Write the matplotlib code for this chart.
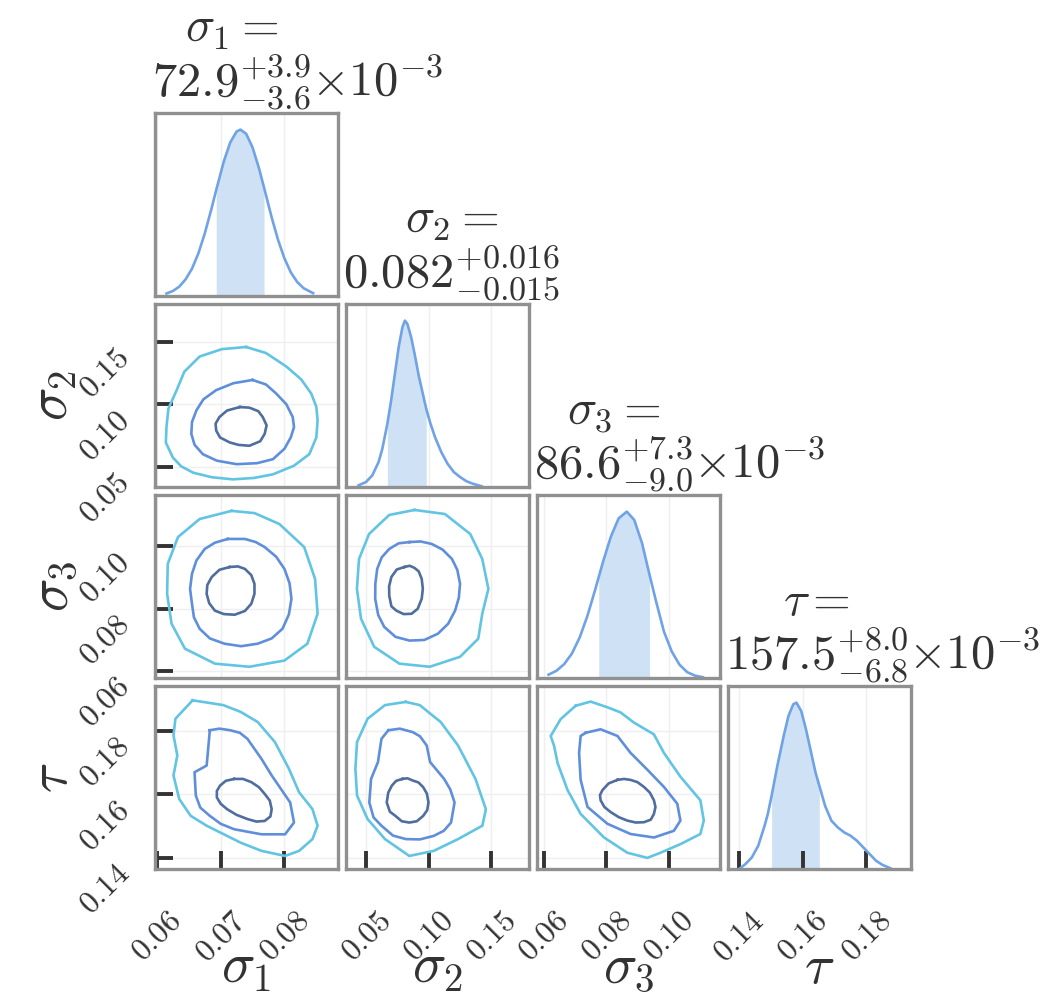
import matplotlib
matplotlib.use("Agg")
import matplotlib.pyplot as plt
import numpy as np

plt.rcParams['mathtext.fontset'] = 'cm'
plt.rcParams['font.family'] = 'DejaVu Serif'

# parameters, axis ranges and ticks
labels = [r'$\sigma_1$', r'$\sigma_2$', r'$\sigma_3$', r'$\tau$']
lims = [(0.0597, 0.0884), (0.034, 0.180), (0.0578, 0.1165), (0.1365, 0.194)]
ticks = [[0.06, 0.07, 0.08], [0.05, 0.10, 0.15], [0.06, 0.08, 0.10], [0.14, 0.16, 0.18]]
tick_text = [['0.06', '0.07', '0.08'], ['0.05', '0.10', '0.15'],
             ['0.06', '0.08', '0.10'], ['0.14', '0.16', '0.18']]

title_names = [r'$\sigma_1 =$', r'$\sigma_2 =$', r'$\sigma_3 =$', r'$\tau =$']
title_values = [r'$72.9^{+3.9}_{-3.6}$', r'$0.082^{+0.016}_{-0.015}$',
                r'$86.6^{+7.3}_{-9.0}$', r'$157.5^{+8.0}_{-6.8}$']
title_scale = [r'$\times10^{-3}$', '', r'$\times10^{-3}$', r'$\times10^{-3}$']

# 1D marginals (normalised density) and credible bounds
s1_x = [0.0615, 0.0625, 0.0635, 0.0645, 0.0655, 0.0665, 0.0675, 0.0685, 0.0693, 0.0705,
        0.0715, 0.0725, 0.0731, 0.0740, 0.0750, 0.0760, 0.0768, 0.0780, 0.0790, 0.0800,
        0.0810, 0.0820, 0.0830, 0.0845]
s1_d = [0.015, 0.03, 0.056, 0.10, 0.164, 0.256, 0.375, 0.516, 0.637, 0.81,
        0.923, 0.989, 1.0, 0.975, 0.893, 0.769, 0.652, 0.472, 0.337, 0.226,
        0.142, 0.084, 0.047, 0.017]
s1_ci = (0.0693, 0.0768)

s2_x = [0.044, 0.050, 0.055, 0.060, 0.063, 0.067, 0.070, 0.073, 0.076, 0.079, 0.081,
        0.083, 0.086, 0.089, 0.092, 0.095, 0.098, 0.101, 0.105, 0.110, 0.115, 0.120,
        0.125, 0.130, 0.135, 0.142]
s2_d = [0.01, 0.03, 0.07, 0.15, 0.23, 0.38, 0.52, 0.68, 0.84, 0.96, 1.00,
        0.98, 0.90, 0.79, 0.67, 0.57, 0.47, 0.39, 0.30, 0.21, 0.14, 0.09,
        0.06, 0.035, 0.02, 0.005]
s2_ci = (0.067, 0.098)

s3_x = [0.0615, 0.064, 0.0665, 0.069, 0.0715, 0.074, 0.0765, 0.0776, 0.079, 0.0815,
        0.084, 0.0866, 0.089, 0.0915, 0.0939, 0.096, 0.0985, 0.101, 0.1035, 0.106,
        0.1085, 0.111]
s3_d = [0.02, 0.043, 0.083, 0.147, 0.244, 0.375, 0.533, 0.607, 0.70, 0.85,
        0.96, 1.00, 0.95, 0.81, 0.62, 0.46, 0.28, 0.16, 0.08, 0.035,
        0.014, 0.005]
s3_ci = (0.0776, 0.0939)

tau_x = [0.1400, 0.1420, 0.1440, 0.1460, 0.1480, 0.1490, 0.1502, 0.1520, 0.1540, 0.1555,
         0.1570, 0.1580, 0.1595, 0.1610, 0.1625, 0.1640, 0.1652, 0.1670, 0.1690, 0.1710,
         0.1730, 0.1750, 0.1770, 0.1790, 0.1810, 0.1830, 0.1850, 0.1875]
tau_d = [0.00, 0.03, 0.07, 0.14, 0.26, 0.33, 0.44, 0.62, 0.80, 0.92,
         0.99, 1.00, 0.95, 0.84, 0.71, 0.58, 0.50, 0.38, 0.29, 0.25,
         0.22, 0.20, 0.17, 0.13, 0.09, 0.05, 0.025, 0.005]
tau_ci = (0.1502, 0.1652)

# 2D credible contours (outer, middle, inner), (x, y) points
s1s2_outer = [(0.0740, 0.1457), (0.0702, 0.1440), (0.0667, 0.1381), (0.0643, 0.1260),
              (0.0631, 0.1113), (0.0618, 0.0965), (0.0615, 0.0817), (0.0614, 0.0695),
              (0.0625, 0.0575), (0.0638, 0.0505), (0.0657, 0.0454), (0.0686, 0.0418),
              (0.0719, 0.0401), (0.0752, 0.0412), (0.0782, 0.0441), (0.0815, 0.0510),
              (0.0839, 0.0602), (0.0850, 0.0735), (0.0852, 0.0871), (0.0850, 0.0980),
              (0.0842, 0.1086), (0.0826, 0.1200), (0.0803, 0.1301), (0.0771, 0.1409)]
s1s2_mid = [(0.0750, 0.1194), (0.0720, 0.1168), (0.0693, 0.1113), (0.0673, 0.1040),
            (0.0662, 0.0952), (0.0655, 0.0858), (0.0654, 0.0764), (0.0659, 0.0677),
            (0.0672, 0.0602), (0.0694, 0.0550), (0.0725, 0.0522), (0.0757, 0.0530),
            (0.0782, 0.0562), (0.0800, 0.0645), (0.0810, 0.0736), (0.0815, 0.0818),
            (0.0813, 0.0898), (0.0803, 0.1000), (0.0787, 0.1086), (0.0771, 0.1158)]
s1s2_inner = [(0.0730, 0.0978), (0.0710, 0.0950), (0.0698, 0.0898), (0.0692, 0.0845),
              (0.0693, 0.0790), (0.0699, 0.0735), (0.0714, 0.0696), (0.0728, 0.0676),
              (0.0745, 0.0669), (0.0762, 0.0705), (0.0769, 0.0764), (0.0772, 0.0832),
              (0.0766, 0.0898), (0.0759, 0.0945), (0.0745, 0.0973)]

s1s3_outer = [(0.0717, 0.1114), (0.0667, 0.1088), (0.0633, 0.1030), (0.0617, 0.0944),
              (0.0616, 0.0848), (0.0623, 0.0752), (0.0644, 0.0672), (0.0691, 0.0624),
              (0.0745, 0.0614), (0.0800, 0.0634), (0.0836, 0.0688), (0.0852, 0.0784),
              (0.0848, 0.0896), (0.0831, 0.0998), (0.0792, 0.1072), (0.0753, 0.1107)]
s1s3_mid = [(0.0711, 0.1024), (0.0691, 0.1012), (0.0675, 0.0992), (0.0662, 0.0955),
            (0.0655, 0.0912), (0.0652, 0.0864), (0.0655, 0.0816), (0.0658, 0.0773),
            (0.0667, 0.0736), (0.0683, 0.0705), (0.0706, 0.0688), (0.0732, 0.0680),
            (0.0758, 0.0688), (0.0780, 0.0705), (0.0797, 0.0736), (0.0807, 0.0782),
            (0.0811, 0.0832), (0.0808, 0.0882), (0.0800, 0.0928), (0.0787, 0.0967),
            (0.0769, 0.0998), (0.0755, 0.1014), (0.0738, 0.1024)]
s1s3_inner = [(0.0714, 0.0934), (0.0698, 0.0925), (0.0686, 0.0902), (0.0679, 0.0876),
              (0.0678, 0.0848), (0.0682, 0.0818), (0.0691, 0.0794), (0.0705, 0.0783),
              (0.0722, 0.0781), (0.0738, 0.0793), (0.0748, 0.0816), (0.0753, 0.0848),
              (0.0753, 0.0880), (0.0748, 0.0908), (0.0738, 0.0928), (0.0727, 0.0936)]

s2s3_outer = [(0.0887, 0.1117), (0.0685, 0.1101), (0.0524, 0.1040), (0.0444, 0.0960),
              (0.0427, 0.0864), (0.0460, 0.0768), (0.0565, 0.0678), (0.0766, 0.0624),
              (0.1008, 0.0614), (0.1250, 0.0646), (0.1395, 0.0704), (0.1427, 0.0784),
              (0.1476, 0.0864), (0.1427, 0.0960), (0.1331, 0.1040), (0.1129, 0.1104)]
s2s3_mid = [(0.0847, 0.1014), (0.0760, 0.1010), (0.0685, 0.0992), (0.0625, 0.0965),
            (0.0589, 0.0928), (0.0574, 0.0880), (0.0573, 0.0832), (0.0597, 0.0780),
            (0.0645, 0.0742), (0.0735, 0.0710), (0.0847, 0.0698), (0.0965, 0.0700),
            (0.1073, 0.0720), (0.1155, 0.0752), (0.1210, 0.0794), (0.1240, 0.0835),
            (0.1250, 0.0880), (0.1228, 0.0925), (0.1185, 0.0960), (0.1110, 0.0990),
            (0.1024, 0.1008), (0.0935, 0.1016)]
s2s3_inner = [(0.0806, 0.0934), (0.0745, 0.0926), (0.0702, 0.0902), (0.0684, 0.0872),
              (0.0685, 0.0842), (0.0702, 0.0808), (0.0742, 0.0794), (0.0800, 0.0783),
              (0.0863, 0.0784), (0.0912, 0.0800), (0.0944, 0.0832), (0.0953, 0.0864),
              (0.0944, 0.0896), (0.0920, 0.0920), (0.0887, 0.0931), (0.0848, 0.0938)]

s1tau_outer = [(0.0656, 0.1895), (0.0629, 0.1837), (0.0626, 0.1785), (0.0632, 0.1722),
               (0.0626, 0.1659), (0.0635, 0.1585), (0.0653, 0.1532), (0.0678, 0.1501),
               (0.0731, 0.1448), (0.0764, 0.1422), (0.0801, 0.1406), (0.0823, 0.1422),
               (0.0844, 0.1459), (0.0852, 0.1501), (0.0844, 0.1553), (0.0823, 0.1606),
               (0.0807, 0.1680), (0.0785, 0.1764), (0.0758, 0.1827), (0.0731, 0.1859),
               (0.0704, 0.1880)]
s1tau_mid = [(0.0683, 0.1801), (0.0678, 0.1690), (0.0659, 0.1669), (0.0661, 0.1596),
             (0.0668, 0.1558), (0.0683, 0.1532), (0.0700, 0.1507), (0.0721, 0.1490),
             (0.0764, 0.1474), (0.0801, 0.1474), (0.0815, 0.1511), (0.0809, 0.1574),
             (0.0780, 0.1659), (0.0764, 0.1711), (0.0742, 0.1774), (0.0730, 0.1793),
             (0.0715, 0.1801), (0.0698, 0.1806)]
s1tau_inner = [(0.0721, 0.1648), (0.0708, 0.1642), (0.0699, 0.1627), (0.0694, 0.1610),
               (0.0694, 0.1590), (0.0700, 0.1570), (0.0710, 0.1553), (0.0725, 0.1535),
               (0.0742, 0.1522), (0.0756, 0.1514), (0.0769, 0.1516), (0.0778, 0.1530),
               (0.0780, 0.1553), (0.0777, 0.1580), (0.0769, 0.1601), (0.0760, 0.1622),
               (0.0748, 0.1638), (0.0735, 0.1648)]

s2tau_outer = [(0.0817, 0.1890), (0.0651, 0.1880), (0.0512, 0.1837), (0.0428, 0.1764),
               (0.0415, 0.1680), (0.0428, 0.1596), (0.0512, 0.1522), (0.0651, 0.1459),
               (0.0845, 0.1406), (0.1040, 0.1422), (0.1234, 0.1459), (0.1428, 0.1501),
               (0.1456, 0.1553), (0.1373, 0.1648), (0.1234, 0.1753), (0.1095, 0.1827),
               (0.0928, 0.1880)]
s2tau_mid = [(0.0678, 0.1801), (0.0623, 0.1774), (0.0595, 0.1701), (0.0540, 0.1648),
             (0.0526, 0.1574), (0.0560, 0.1527), (0.0623, 0.1501), (0.0715, 0.1470),
             (0.0817, 0.1459), (0.0930, 0.1458), (0.1040, 0.1469), (0.1120, 0.1485),
             (0.1178, 0.1511), (0.1206, 0.1574), (0.1172, 0.1615), (0.1123, 0.1648),
             (0.1011, 0.1701), (0.0984, 0.1753), (0.0930, 0.1782), (0.0873, 0.1795),
             (0.0770, 0.1806)]
s2tau_inner = [(0.0790, 0.1648), (0.0740, 0.1642), (0.0706, 0.1627), (0.0677, 0.1605),
               (0.0665, 0.1574), (0.0690, 0.1545), (0.0734, 0.1532), (0.0785, 0.1515),
               (0.0845, 0.1511), (0.0905, 0.1515), (0.0956, 0.1532), (0.0988, 0.1550),
               (0.0998, 0.1574), (0.0985, 0.1602), (0.0956, 0.1622), (0.0918, 0.1637),
               (0.0873, 0.1643), (0.0830, 0.1650)]

s3tau_outer = [(0.0702, 0.1878), (0.0750, 0.1891), (0.0804, 0.1873), (0.0846, 0.1857),
               (0.0889, 0.1825), (0.0953, 0.1788), (0.0985, 0.1730), (0.1038, 0.1655),
               (0.1102, 0.1581), (0.1113, 0.1517), (0.1102, 0.1475), (0.1038, 0.1443),
               (0.0974, 0.1416), (0.0932, 0.1400), (0.0868, 0.1416), (0.0793, 0.1464),
               (0.0718, 0.1538), (0.0676, 0.1613), (0.0644, 0.1698), (0.0633, 0.1751),
               (0.0622, 0.1783), (0.0654, 0.1836)]
s3tau_mid = [(0.0734, 0.1793), (0.0782, 0.1804), (0.0836, 0.1783), (0.0878, 0.1730),
             (0.0932, 0.1677), (0.0985, 0.1623), (0.1028, 0.1570), (0.1038, 0.1517),
             (0.1017, 0.1485), (0.0953, 0.1464), (0.0878, 0.1475), (0.0804, 0.1507),
             (0.0740, 0.1560), (0.0718, 0.1645), (0.0713, 0.1730), (0.0718, 0.1783)]
s3tau_inner = [(0.0836, 0.1645), (0.0808, 0.1634), (0.0788, 0.1613), (0.0780, 0.1597),
               (0.0782, 0.1581), (0.0794, 0.1560), (0.0814, 0.1544), (0.0840, 0.1528),
               (0.0868, 0.1517), (0.0895, 0.1511), (0.0921, 0.1512), (0.0943, 0.1520),
               (0.0953, 0.1538), (0.0958, 0.1560), (0.0953, 0.1581), (0.0940, 0.1605),
               (0.0921, 0.1623), (0.0900, 0.1638), (0.0878, 0.1645), (0.0857, 0.1648)]

marginals = [(s1_x, s1_d, s1_ci), (s2_x, s2_d, s2_ci), (s3_x, s3_d, s3_ci), (tau_x, tau_d, tau_ci)]
contours = {
    (1, 0): (s1s2_outer, s1s2_mid, s1s2_inner),
    (2, 0): (s1s3_outer, s1s3_mid, s1s3_inner),
    (2, 1): (s2s3_outer, s2s3_mid, s2s3_inner),
    (3, 0): (s1tau_outer, s1tau_mid, s1tau_inner),
    (3, 1): (s2tau_outer, s2tau_mid, s2tau_inner),
    (3, 2): (s3tau_outer, s3tau_mid, s3tau_inner),
}

LINE = '#6fa3e6'
FILL = '#cfe2f5'
CONT = ['#62c4e3', '#5f8fdb', '#4f6d9e']
SPINE = '#909090'
INK = '#333333'

W, H = 1042, 1000
col_left = [155, 346, 537, 728]
row_top = [113, 304, 495, 686]
SIZE = 183

fig = plt.figure(figsize=(W / 100, H / 100), dpi=100)


def make_ax(i, j):
    ax = fig.add_axes([col_left[j] / W, 1 - (row_top[i] + SIZE) / H, SIZE / W, SIZE / H])
    for s in ax.spines.values():
        s.set_color(SPINE)
        s.set_linewidth(2.4)
    ax.tick_params(direction='in', length=13, width=2.8, color=INK,
                   labelsize=23, labelcolor=INK, pad=14)
    ax.tick_params(axis='x', pad=26)
    ax.set_xlim(lims[j])
    ax.set_xticks(ticks[j])
    for t in ticks[j]:
        ax.axvline(t, color='#efefef', lw=1, zorder=0)
    if i == 3:
        ax.set_xticklabels(['$' + s + '$' for s in tick_text[j]])
        plt.setp(ax.get_xticklabels(), rotation=45, ha='center', va='top')
    else:
        ax.tick_params(axis='x', length=0, labelbottom=False)
    return ax


for i in range(4):
    for j in range(i + 1):
        ax = make_ax(i, j)
        if i == j:
            x, d, ci = marginals[i]
            x = np.array(x)
            d = np.array(d)
            ax.plot(x, d, color=LINE, lw=1.9)
            m = (x >= ci[0] - 1e-9) & (x <= ci[1] + 1e-9)
            ax.fill_between(x[m], 0, d[m], color=FILL, lw=0)
            ax.set_ylim(0, 1.1)
            ax.set_yticks([])
        else:
            ax.set_ylim(lims[i])
            ax.set_yticks(ticks[i])
            for t in ticks[i]:
                ax.axhline(t, color='#efefef', lw=1, zorder=0)
            for pts, c in zip(contours[(i, j)], CONT):
                p = np.array(pts + [pts[0]])
                ax.plot(p[:, 0], p[:, 1], color=c, lw=1.9)
            if j == 0:
                ax.set_yticklabels(['$' + s + '$' for s in tick_text[i]])
                plt.setp(ax.get_yticklabels(), rotation=45, ha='right', va='top')
            else:
                ax.tick_params(axis='y', length=0, labelleft=False)

# titles above the diagonal
title_texts = []
for k in range(4):
    x0 = (col_left[k] - 3) / W
    yb = 1 - (row_top[k] - 17) / H
    t = fig.text(x0, yb, title_names[k] + '\n' + title_values[k], ha='left', va='baseline',
                 multialignment='center', fontsize=35, color=INK, linespacing=1.0)
    title_texts.append((t, yb))

fig.canvas.draw()
for k, (t, yb) in enumerate(title_texts):
    if title_scale[k]:
        bb = t.get_window_extent()
        fig.text(bb.x1 / W, yb, title_scale[k], ha='left', va='baseline',
                 fontsize=35, color=INK)

# axis labels
for k in range(4):
    fig.text((col_left[k] + SIZE / 2) / W, 1 - 983 / H, labels[k],
             ha='center', va='baseline', fontsize=40, color=INK)
for k in range(1, 4):
    fig.text(52 / W, 1 - (row_top[k] + SIZE / 2) / H, labels[k],
             ha='center', va='center', rotation=90, fontsize=40, color=INK)

fig.savefig('out.png', dpi=100)
